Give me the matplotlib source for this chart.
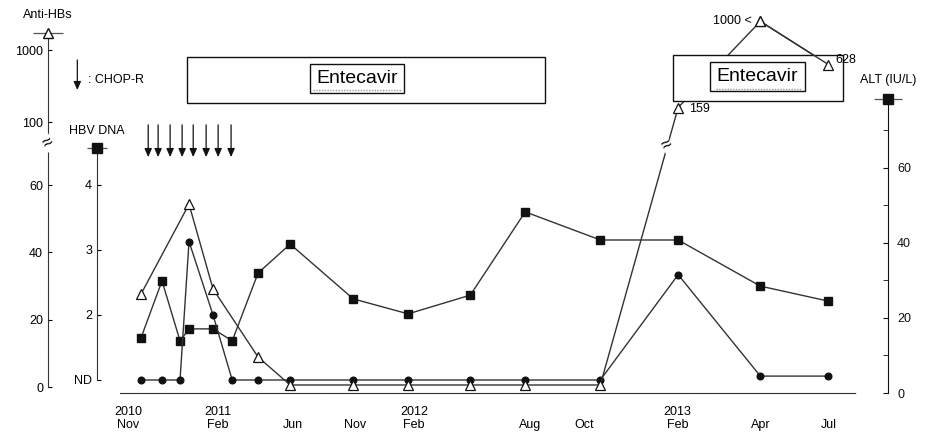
import numpy as np
import matplotlib.pyplot as plt
from matplotlib.patches import Rectangle
from matplotlib.ticker import NullLocator

plt.rcParams['font.family'] = ['Liberation Sans', 'DejaVu Sans']

# visits, in months after 1 Nov 2010
visit_month = [0.43, 1.13, 1.73, 2.03, 2.83, 3.75, 5.13, 6.84,
               11.84, 14.69, 17.9, 20.74, 23.69, 27.02, 29.0, 32.0]
alt = [14.7, 29.9, 13.9, 17.1, 17.1, 13.9, 32.0, 39.7,
       25.1, 21.1, 26.1, 48.3, 40.8, 40.8, 28.5, 24.5]
# log copies/mL, 1.0 plotted as "ND"
hbv_dna = [1.0, 1.0, 1.0, 3.13, 2.0, 1.0, 1.0, 1.0,
           1.0, 1.0, 1.0, 1.0, 1.0, 2.62, 1.06, 1.06]
anti_hbs = [27.6, None, None, 54.3, 29.1, None, 8.9, 0.6,
            0.6, 0.6, 0.6, 0.6, 0.6, 159, 2500, 628]

chop_r_month = [0.67, 1.0, 1.4, 1.8, 2.17, 2.6, 3.0, 3.69]
entecavir_periods = [(1.97, 21.56), (26.83, 32.65)]
entecavir_label_month = [12.1, 28.93]

tick_month = [0, 3, 7, 12, 15, 21, 23, 27, 29, 32]
tick_label = ['2010\nNov', '2011\nFeb', '\nJun', '\nNov', '2012\nFeb',
              '\nAug', '\nOct', '2013\nFeb', '\nApr', '\nJul']

hbs_ticks = [0, 20, 40, 60, 100, 1000]
dna_ticks = [1, 2, 3, 4]
dna_tick_labels = ['ND', '2', '3', '4']
alt_ticks = [0, 20, 40, 60]

LINE = '#333333'
INK = '#111111'

# time axis is drawn unevenly: knots of month -> position along the axis
scale_months = [-2, 0, 3, 7, 12, 15, 21, 23, 27, 29, 32, 35]
scale_pos = [68, 128, 218, 293, 355, 414, 530, 584, 677, 760, 828, 897]


def month_to_pos(m):
    return np.interp(m, scale_months, scale_pos)


def pos_to_month(p):
    return np.interp(p, scale_pos, scale_months)


# anti-HBs: linear up to 60, a break up to 100, then log decades
def hbs_forward(v):
    v = np.asarray(v, dtype=float)
    low = v * 202 / 60
    mid = 202 + (v - 60) * 63 / 40
    high = 265 + 72 * np.log10(np.maximum(v, 100) / 100)
    return np.where(v <= 60, low, np.where(v <= 100, mid, high))


def hbs_inverse(h):
    h = np.asarray(h, dtype=float)
    low = h * 60 / 202
    mid = 60 + (h - 202) * 40 / 63
    high = 100 * 10 ** ((np.maximum(h, 265) - 265) / 72)
    return np.where(h <= 202, low, np.where(h <= 265, mid, high))


fig = plt.figure(figsize=(9.43, 4.4), dpi=100)
ax = fig.add_axes([120 / 943, 47 / 440, 736 / 943, 383 / 440])
ax.set_xscale('function', functions=(month_to_pos, pos_to_month))
ax_dna = ax.twinx()
ax_hbs = ax.twinx()

# ALT on the main axes, right side
for s in ['left', 'top']:
    ax.spines[s].set_visible(False)
ax.yaxis.tick_right()
ax.spines['right'].set_position(('axes', 1.0435))
ax.spines['right'].set_bounds(0, 78.4)
ax.spines['right'].set_color(INK)
ax.spines['bottom'].set_linestyle((0, (1.5, 0.8)))
ax.spines['bottom'].set_color(LINE)
ax.set_yticks(alt_ticks)
ax.set_yticks([10, 30, 50, 70], minor=True)
ax.tick_params(axis='y', which='both', direction='in', length=3.5,
               pad=6.5, labelsize=9, colors=INK)
ax.set_xticks(tick_month)
ax.set_xticklabels(tick_label)
ax.tick_params(axis='x', length=0, pad=9, labelsize=9)
ax.xaxis.set_minor_locator(NullLocator())

for a, pos in ((ax_dna, -0.03125), (ax_hbs, -0.0978)):
    for s in ['right', 'top', 'bottom']:
        a.spines[s].set_visible(False)
    a.yaxis.tick_left()
    a.spines['left'].set_position(('axes', pos))
    a.spines['left'].set_linestyle((0, (1.5, 0.8)))
    a.spines['left'].set_color(LINE)
    a.tick_params(axis='y', which='both', direction='in', length=3,
                  pad=3.5, labelsize=9)

ax_hbs.set_yscale('function', functions=(hbs_forward, hbs_inverse))
ax_hbs.set_yticks(hbs_ticks)
ax_hbs.set_yticklabels([str(t) for t in hbs_ticks])
ax_hbs.yaxis.set_minor_locator(NullLocator())
ax_hbs.spines['left'].set_bounds(0, 1720)

ax_dna.set_yticks(dna_ticks)
ax_dna.set_yticklabels(dna_tick_labels)
ax_dna.spines['left'].set_bounds(1.0, 4.57)

# series
ax.plot(visit_month, alt, color=LINE, lw=1.0, marker='s', ms=6,
        mfc=INK, mec=INK, zorder=3)
ax_dna.plot(visit_month, hbv_dna, color=LINE, lw=1.0, marker='o', ms=4.8,
            mfc=INK, mec=INK, zorder=3)
hbs = np.array([np.nan if v is None else v for v in anti_hbs])
ok = ~np.isnan(hbs)
hbs_month = np.array(visit_month)[ok]
hbs_val = hbs[ok]
tri = dict(color=LINE, lw=1.0, marker='^', ms=7, mfc='white', mec=INK,
           mew=0.9, clip_on=False)
ax_hbs.plot(hbs_month, hbs_val, zorder=3, **tri)
# last two titres sit over the treatment bar
ax_hbs.plot(hbs_month[-2:], hbs_val[-2:], zorder=8, **tri)

# value notes on the high anti-HBs titres
ax_hbs.annotate('159', xy=(visit_month[13], anti_hbs[13]), xytext=(8, -1),
                textcoords='offset points', ha='left', va='center', fontsize=9)
ax_hbs.annotate('1000 <', xy=(visit_month[14], anti_hbs[14]), xytext=(-6, 0),
                textcoords='offset points', ha='right', va='center', fontsize=9)
ax_hbs.annotate('628', xy=(visit_month[15], anti_hbs[15]), xytext=(5, 3),
                textcoords='offset points', ha='left', va='center', fontsize=9,
                zorder=8)

# axis breaks
ax_hbs.text(0, 86.7, '\u2248', transform=ax_hbs.spines['left'].get_spine_transform(),
            ha='center', va='center', fontsize=13, rotation=30,
            bbox=dict(fc='white', ec='none', pad=0), zorder=5)
ax_hbs.text(26.55, 85, '\u2248', ha='center', va='center', fontsize=13,
            rotation=30, bbox=dict(fc='white', ec='none', pad=0), zorder=5)


# key markers at the top of each axis
def axis_key(a, side, top, marker, mfc, label, seg, dy):
    tr = a.spines[side].get_spine_transform()
    a.plot([0], [top], marker='_', ms=seg, mew=0.9, color='#555555',
           transform=tr, clip_on=False)
    a.plot([0], [top], marker=marker, ms=6.5, mfc=mfc, mec=INK,
           transform=tr, clip_on=False, zorder=4)
    a.annotate(label, xy=(0, top), xycoords=tr, xytext=(0, dy),
               textcoords='offset points', ha='center', va='center', fontsize=9)


axis_key(ax_hbs, 'left', 1720, '^', 'white', 'Anti-HBs', 21, 13)
axis_key(ax_dna, 'left', 4.57, 's', INK, 'HBV DNA', 15, 12)
axis_key(ax, 'right', 78.4, 's', INK, 'ALT (IU/L)', 20, 14)

# treatment
top_tr = ax_hbs.get_xaxis_transform()
head = '-|>,head_length=0.5,head_width=0.22'
for m in chop_r_month:
    ax_hbs.annotate('', xy=(m, 0.616), xytext=(m, 0.70), xycoords=top_tr,
                    arrowprops=dict(arrowstyle=head, color=INK, lw=0.9,
                                    shrinkA=0, shrinkB=0))
ax_hbs.annotate('', xy=(-0.058, 0.791), xytext=(-0.058, 0.8695),
                xycoords='axes fraction',
                arrowprops=dict(arrowstyle=head, color=INK, lw=0.9,
                                shrinkA=0, shrinkB=0))
ax_hbs.text(-0.0435, 0.817, ': CHOP-R', transform=ax_hbs.transAxes,
            ha='left', va='center', fontsize=9)

box_y = [(0.757, 0.877), (0.762, 0.8825)]
underline = [(8.6, 14.39, 0.791), (27.92, 30.85, 0.794)]
for (start, end), (y0, y1), lm, (u0, u1, uy) in zip(
        entecavir_periods, box_y, entecavir_label_month, underline):
    ax_hbs.add_patch(Rectangle((start, y0), end - start, y1 - y0,
                               transform=top_tr, fc='white', ec=INK,
                               lw=1.0, zorder=6, clip_on=False))
    ax_hbs.text(lm, (y0 + y1) / 2 + 0.004, 'Entecavir', transform=top_tr,
                ha='center', va='center', fontsize=14, zorder=7,
                bbox=dict(boxstyle='square,pad=0.33', fc='white',
                          ec=INK, lw=1.0))
    ax_hbs.plot([u0, u1], [uy, uy], transform=top_tr, color='#999999',
                lw=1.0, ls=(0, (1, 1)), zorder=7.5)

ax.set_xlim(-0.27, 33.2)
ax.set_ylim(0, 102.13)
ax_dna.set_ylim(0.8, 6.692)
ax_hbs.set_ylim(-1.78, 3594)

fig.savefig('out.png', dpi=100)
